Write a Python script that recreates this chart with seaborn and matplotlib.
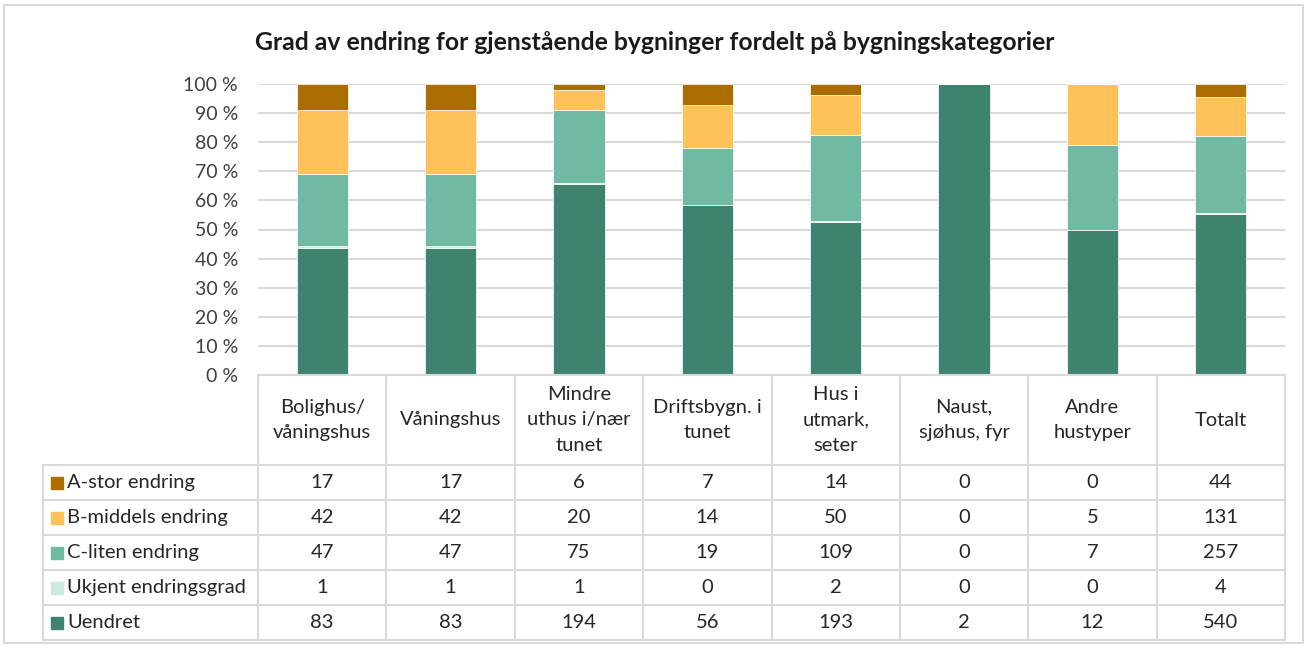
import pandas as pd
import matplotlib.pyplot as plt
import seaborn as sns
from matplotlib.patches import Rectangle

# categories (header text of the data table, with Excel's line breaks)
categories = [
    "Bolighus/\nvåningshus", "Våningshus", "Mindre\nuthus i/nær\ntunet",
    "Driftsbygn. i\ntunet", "Hus i\nutmark,\nseter", "Naust,\nsjøhus, fyr",
    "Andre\nhustyper", "Totalt",
]
levels = ["A-stor endring", "B-middels endring", "C-liten endring",
          "Ukjent endringsgrad", "Uendret"]
a_stor = [17, 17, 6, 7, 14, 0, 0, 44]
b_middels = [42, 42, 20, 14, 50, 0, 5, 131]
c_liten = [47, 47, 75, 19, 109, 0, 7, 257]
ukjent = [1, 1, 1, 0, 2, 0, 0, 4]
uendret = [83, 83, 194, 56, 193, 2, 12, 540]
colors = ["#AB6C00", "#FFC15A", "#70B9A5", "#CDE9E0", "#3E8370"]
ytick_values = list(range(0, 101, 10))

series = [a_stor, b_middels, c_liten, ukjent, uendret]
rows = []
for i, cat in enumerate(categories):
    for lev, vals in zip(levels, series):
        rows.append({"kategori": cat, "grad": lev, "antall": vals[i]})
df = pd.DataFrame(rows)

sns.set_style("white")
plt.rcParams["font.family"] = ["Lato", "DejaVu Sans"]

W, H = 1307, 648
fig = plt.figure(figsize=(W / 100, H / 100), dpi=100)

# pixel layout
px_left, px_right = 258, 1285
px_top, px_zero, px_bottom = 84, 375, 640
px_legend = 43
col_w = (px_right - px_left) / len(categories)
fs = 14.5

ax = fig.add_axes([px_left / W, 1 - px_zero / H,
                   (px_right - px_left) / W, (px_zero - px_top) / H])
sns.histplot(data=df, x="kategori", hue="grad", weights="antall",
             hue_order=levels, palette=colors, multiple="fill",
             discrete=True, shrink=0.40, alpha=1, edgecolor="white",
             linewidth=0.5, legend=False, ax=ax)
ax.set_xlim(-0.5, len(categories) - 0.5)
ax.set_ylim(0, 1)
ax.set_yticks([v / 100 for v in ytick_values])
ax.set_yticklabels([f"{v} %" for v in ytick_values], fontsize=14, color="#404040")
ax.tick_params(axis="y", length=0, pad=14.4)
ax.set_xticks([])
ax.set_xlabel("")
ax.set_ylabel("")
ax.grid(axis="y", color="#D9D9D9", linewidth=1.5)
ax.set_axisbelow(True)
for s in ax.spines.values():
    s.set_visible(False)

fig.text(0.501, 1 - 42 / H,
         "Grad av endring for gjenstående bygninger fordelt på bygningskategorier",
         ha="center", va="center", fontsize=17.8, fontweight="bold", color="#1a1a1a")

# data table under the bars
tab = fig.add_axes([px_left / W, 1 - px_bottom / H,
                    (px_right - px_left) / W, (px_bottom - px_zero) / H])
tab.set_xlim(-0.5, len(categories) - 0.5)
tab.set_ylim(px_bottom - px_zero, 0)
tab.axis("off")
head_h = 90
row_h = (px_bottom - px_zero - head_h) / len(levels)
x_leg = -0.5 - (px_left - px_legend) / col_w
xr = len(categories) - 0.5
lc = "#D9D9D9"
lw = 1.5

tab.plot([-0.5, xr], [0, 0], color=lc, lw=lw, clip_on=False)
for k in range(len(categories) + 1):
    tab.plot([k - 0.5, k - 0.5], [0, px_bottom - px_zero], color=lc, lw=lw, clip_on=False)
tab.plot([x_leg, x_leg], [head_h, px_bottom - px_zero], color=lc, lw=lw, clip_on=False)
for r in range(len(levels) + 1):
    y = head_h + r * row_h
    tab.plot([x_leg, xr], [y, y], color=lc, lw=lw, clip_on=False)

for i, cat in enumerate(categories):
    tab.text(i, head_h / 2, cat, ha="center", va="center", fontsize=fs,
             color="#262626", linespacing=1.6)
for r, (lev, vals, col) in enumerate(zip(levels, series, colors)):
    yc = head_h + (r + 0.5) * row_h
    tab.plot([x_leg + 0.11], [yc], marker="s", markersize=8, color=col,
             linestyle="none", clip_on=False)
    tab.text(x_leg + 0.19, yc, lev, ha="left", va="center", fontsize=fs,
             color="#262626", clip_on=False)
    for i, v in enumerate(vals):
        tab.text(i, yc, str(v), ha="center", va="center", fontsize=fs, color="#262626")

fig.patches.append(Rectangle((4 / W, 5 / H), 1 - 8 / W, 1 - 10 / H,
                             transform=fig.transFigure, fill=False,
                             edgecolor="#D9D9D9", linewidth=1.5))

fig.savefig("out.png", dpi=100)
